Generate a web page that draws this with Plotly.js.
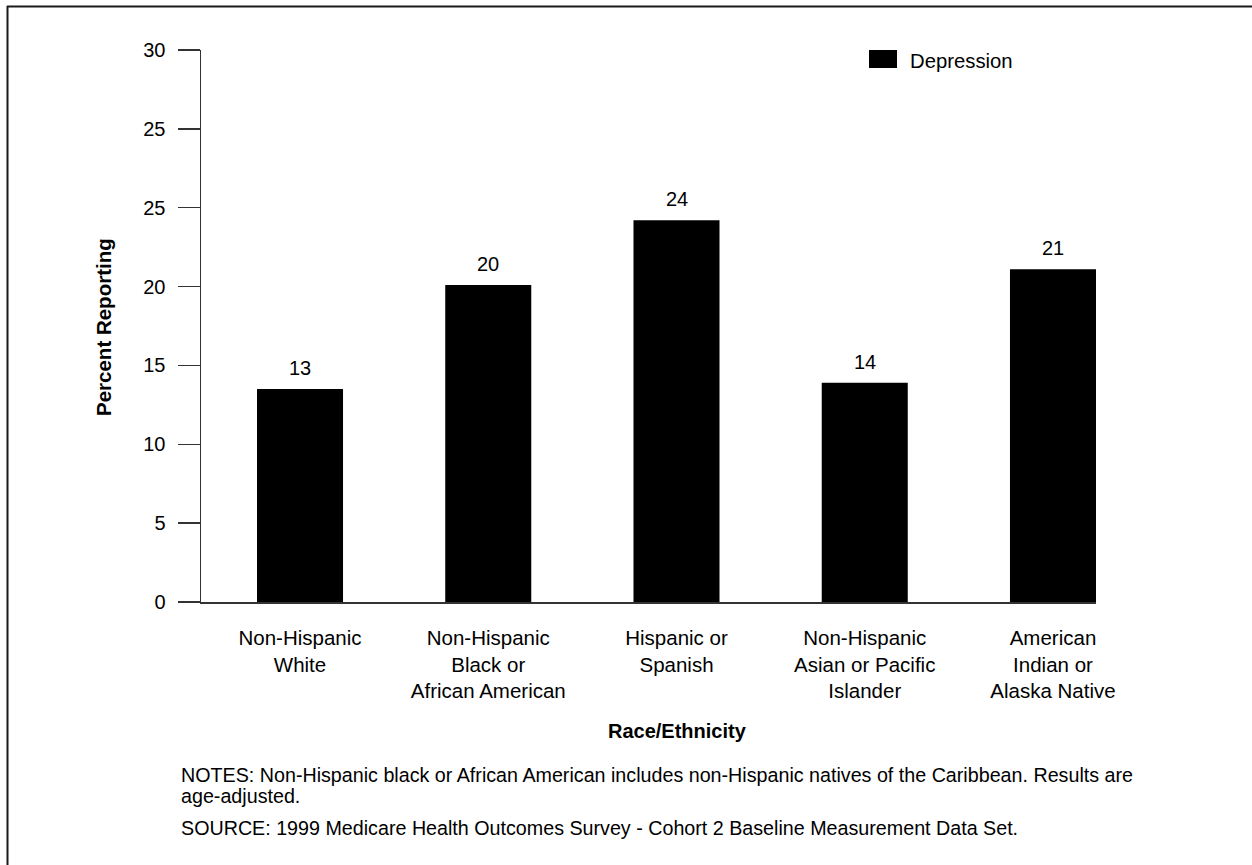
<!DOCTYPE html>
<html>
<head>
<meta charset="utf-8">
<script src="https://cdn.plot.ly/plotly-3.0.1.min.js"></script>
<style>
  html, body { margin: 0; padding: 0; background: #fff; }
  #chart { width: 1252px; height: 865px; }
</style>
</head>
<body>
<div id="chart"></div>
<script>
// ---- data ----
var categories = [
  "Non-Hispanic<br>White",
  "Non-Hispanic<br>Black or<br>African American",
  "Hispanic or<br>Spanish",
  "Non-Hispanic<br>Asian or Pacific<br>Islander",
  "American<br>Indian or<br>Alaska Native"
];
var seriesName = "Depression";
var barHeights = [13.5, 20.1, 24.2, 13.9, 21.1];
var valueLabels = ["13", "20", "24", "14", "21"];
var yTickVals = [0, 5, 10, 15, 20, 25, 30, 35];
var yTickText = ["0", "5", "10", "15", "20", "25", "25", "30"];
var xTitle = "Race/Ethnicity";
var yTitle = "Percent Reporting";
var notesLines = [
  "NOTES: Non-Hispanic black or African American includes non-Hispanic natives of the Caribbean. Results are",
  "age-adjusted."
];
var sourceText = "SOURCE: 1999 Medicare Health Outcomes Survey - Cohort 2 Baseline Measurement Data Set.";

var FONT = "Liberation Sans, Arial, Helvetica, sans-serif";
var xIdx = categories.map(function (_, i) { return i; });

// pixel helpers for paper coordinates (plot area: x 201..1096, y 50..602)
function px(x) { return (x - 201) / 895; }
function py(y) { return (602 - y) / 552; }

var trace = {
  type: "bar",
  name: seriesName,
  x: xIdx,
  y: barHeights,
  width: 0.457,
  marker: { color: "#000000", line: { width: 0 } },
  showlegend: false,
  hoverinfo: "skip"
};

var annotations = valueLabels.map(function (t, i) {
  return {
    x: i, y: barHeights[i], xref: "x", yref: "y",
    text: t, showarrow: false, yanchor: "bottom", yshift: 8,
    font: { family: FONT, size: 20, color: "#000" }
  };
});

annotations.push({
  xref: "paper", yref: "paper", x: px(677), y: py(731),
  text: "<b>" + xTitle + "</b>", showarrow: false,
  xanchor: "center", yanchor: "middle",
  font: { family: FONT, size: 20, color: "#000" }
});
annotations.push({
  xref: "paper", yref: "paper", x: px(103), y: py(327),
  text: "<b>" + yTitle + "</b>", showarrow: false, textangle: -90,
  xanchor: "center", yanchor: "middle",
  font: { family: FONT, size: 20.5, color: "#000" }
});
var noteYs = [775, 796];
notesLines.forEach(function (line, i) {
  annotations.push({
    xref: "paper", yref: "paper", x: px(179), y: py(noteYs[i]),
    text: line, showarrow: false, align: "left",
    xanchor: "left", yanchor: "middle",
    font: { family: FONT, size: 19.7, color: "#000" }
  });
});
annotations.push({
  xref: "paper", yref: "paper", x: px(179), y: py(828),
  text: sourceText, showarrow: false, align: "left",
  xanchor: "left", yanchor: "middle",
  font: { family: FONT, size: 19.7, color: "#000" }
});
// legend text
annotations.push({
  xref: "paper", yref: "paper", x: px(908), y: py(61),
  text: seriesName, showarrow: false,
  xanchor: "left", yanchor: "middle",
  font: { family: FONT, size: 20.3, color: "#000" }
});

var shapes = [
  // legend swatch
  { type: "rect", xref: "paper", yref: "paper",
    x0: px(869), x1: px(897), y0: py(68), y1: py(50),
    fillcolor: "#000", line: { width: 0 } },
  // frame top
  { type: "line", xref: "paper", yref: "paper",
    x0: px(7), x1: px(1252), y0: py(6.5), y1: py(6.5),
    line: { color: "#1a1a1a", width: 2 } },
  // frame left
  { type: "line", xref: "paper", yref: "paper",
    x0: px(7.5), x1: px(7.5), y0: py(6), y1: py(865),
    line: { color: "#1a1a1a", width: 2 } }
];

var layout = {
  width: 1252, height: 865,
  margin: { l: 201, r: 156, t: 50, b: 263, pad: 0 },
  paper_bgcolor: "#fff", plot_bgcolor: "#fff",
  font: { family: FONT, size: 20, color: "#000" },
  showlegend: false,
  xaxis: {
    range: [-0.526, 4.2285],
    tickmode: "array", tickvals: xIdx, ticktext: categories,
    ticks: "", showgrid: false, zeroline: false,
    showline: true, linecolor: "#333", linewidth: 1.5,
    tickfont: { family: FONT, size: 20.5, color: "#000" },
    ticklabelstandoff: 17,
    fixedrange: true
  },
  yaxis: {
    range: [0, 35],
    tickmode: "array", tickvals: yTickVals, ticktext: yTickText,
    ticks: "outside", ticklen: 22, tickwidth: 1.5, tickcolor: "#333",
    showgrid: false, zeroline: false,
    showline: true, linecolor: "#333", linewidth: 1.5,
    tickfont: { family: FONT, size: 20, color: "#000" },
    ticklabelstandoff: 8,
    fixedrange: true
  },
  annotations: annotations,
  shapes: shapes
};

Plotly.newPlot("chart", [trace], layout, { displayModeBar: false, staticPlot: true });
</script>
</body>
</html>
